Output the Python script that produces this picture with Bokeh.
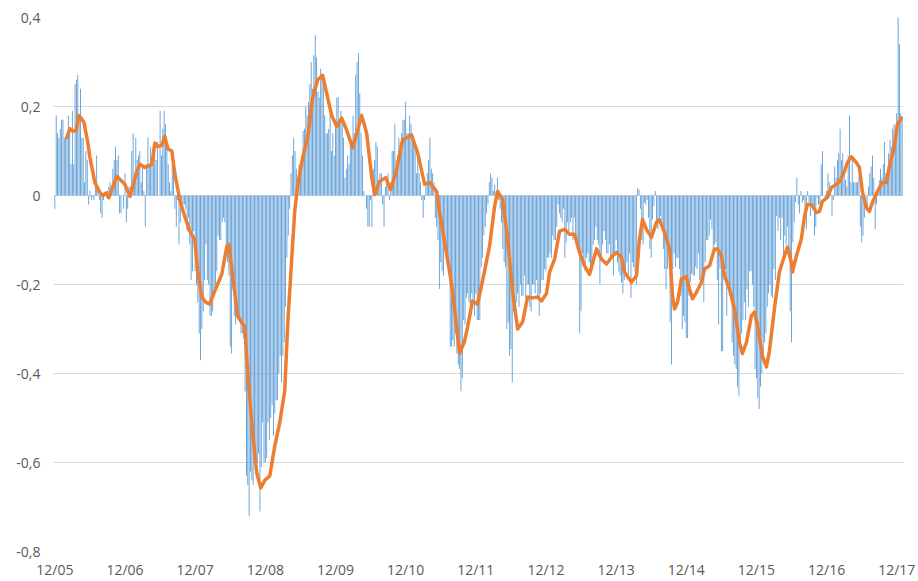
from bokeh.plotting import figure
from bokeh.models import FixedTicker, CustomJSTickFormatter, Range1d, ColumnDataSource
from bokeh.embed import file_html
from bokeh.resources import INLINE

# ---- data (weekly values) ----
tick_weeks = [0, 52, 104, 156, 208, 260, 312, 364, 416, 468, 520, 572, 624]
tick_labels = ["12/05", "12/06", "12/07", "12/08", "12/09", "12/10", "12/11",
               "12/12", "12/13", "12/14", "12/15", "12/16", "12/17"]
y_ticks = [-0.8, -0.6, -0.4, -0.2, 0.0, 0.2, 0.4]

bars_2006 = [-0.03, 0.18, 0.14, 0.13, 0.15, 0.17, 0.17, 0.13, 0.13, 0.13,
             0.18, 0.15, 0.07, 0.19, 0.07, 0.25, 0.26, 0.27, 0.18, 0.24,
             0.13, 0.13, 0.03, 0.10, 0.08, -0.02, 0.01, -0.01, -0.003, -0.01,
             0.02, 0.09, 0.01, -0.01, -0.04, -0.05, -0.01, 0.0, 0.01, 0.01,
             0.02, 0.03, 0.02, 0.06, 0.08, 0.11, 0.08, 0.09, -0.04, -0.04,
             0.0, -0.03, 0.05, -0.06, -0.03, 0.02, 0.02, 0.10, 0.14, 0.05,
             0.13, 0.08, 0.09, 0.10, 0.03, 0.07, 0.01, -0.07, 0.07, 0.13,
             0.07, 0.11, 0.07, 0.07, 0.12, 0.08, 0.12, 0.0, 0.19, 0.09,
             0.15, 0.19, 0.16, 0.11, 0.07, 0.03, 0.01, 0.07, 0.06, -0.03,
             -0.07, -0.01, -0.11, -0.06, -0.02, -0.02, -0.02, -0.03, -0.08, -0.05,
             -0.11, -0.19, -0.17, -0.08, -0.17]
bars_2008 = [-0.20, -0.24, -0.31, -0.37, -0.30,
             -0.26, -0.19, -0.11, -0.19, -0.20, -0.27, -0.27, -0.26, -0.21, -0.21,
             -0.17, -0.09, -0.10, -0.10, -0.06, -0.05, -0.06, -0.12, -0.15, -0.18,
             -0.34, -0.355, -0.21, -0.27, -0.29, -0.25, -0.26, -0.28, -0.31, -0.31,
             -0.32, -0.44, -0.63, -0.65, -0.72, -0.62, -0.64, -0.65, -0.55, -0.62,
             -0.60, -0.58, -0.71, -0.61, -0.51, -0.60, -0.60, -0.59, -0.51, -0.55,
             -0.50, -0.47, -0.54, -0.49, -0.46, -0.46, -0.40, -0.36, -0.42, -0.36,
             -0.33, -0.25, -0.14, -0.09, -0.03, 0.05, 0.09, 0.13, 0.10, 0.06,
             0.04, 0.07, 0.06, 0.09, 0.145, 0.15, 0.20, 0.18, 0.21, 0.25,
             0.30, 0.24, 0.315, 0.36, 0.31, 0.233, 0.22, 0.285, 0.27, 0.25,
             0.18, 0.14, 0.14, 0.15, 0.19, 0.10, 0.14, 0.09, 0.17, 0.22]
bars_2010 = [0.22, 0.16, 0.19, 0.17, 0.13, 0.04, 0.06, 0.09, 0.07, 0.13,
             0.11, 0.18, 0.14, 0.27, 0.30, 0.32, 0.23, 0.14, 0.09, 0.01,
             0.0, -0.03, -0.07, -0.07, -0.01, -0.07, 0.06, 0.08, 0.12, 0.11,
             0.03, 0.05, 0.05, -0.02, -0.07, 0.02, 0.03, 0.05, -0.01, 0.03,
             0.10, 0.10, 0.16, 0.08, 0.09, 0.13, 0.12, 0.14, 0.17, 0.17,
             0.21, 0.14, 0.14, 0.18, 0.16, 0.14, 0.12, 0.11, 0.05, 0.10,
             0.05, 0.03, -0.01, -0.05, -0.01, 0.02, 0.05, 0.08, 0.13, 0.06,
             0.05, 0.03, -0.05, -0.07, -0.10, -0.21, -0.15, -0.17, -0.18, -0.12,
             -0.12, -0.15, -0.16, -0.34, -0.34, -0.325, -0.34, -0.31, -0.355, -0.38,
             -0.39, -0.44, -0.41, -0.28, -0.29, -0.23, -0.22, -0.24, -0.27, -0.22,
             -0.24, -0.27, -0.22, -0.28, -0.28, -0.28, -0.16, -0.14, -0.09, -0.07]
bars_2012 = [-0.04, -0.02, 0.03, 0.05, 0.04, 0.01, 0.025, 0.006, 0.04, -0.01,
             -0.03, -0.06, -0.12, -0.15, -0.16, -0.30, -0.285, -0.36, -0.345, -0.42,
             -0.26, -0.255, -0.24, -0.22, -0.25, -0.20, -0.225, -0.225, -0.18, -0.23,
             -0.20, -0.20, -0.25, -0.26, -0.20, -0.20, -0.22, -0.19, -0.23, -0.27,
             -0.22, -0.19, -0.19, -0.165, -0.17, -0.14, -0.14, -0.13, -0.14, -0.09,
             -0.10, -0.10, -0.07, -0.02, -0.04, -0.05, -0.06, -0.03, -0.14, -0.105,
             -0.06, -0.08, -0.06, -0.05, -0.10, -0.05, -0.09, -0.10, -0.11, -0.31,
             -0.26, -0.13, -0.16, -0.17, -0.14, -0.13, -0.15, -0.16, -0.17, -0.11,
             -0.10, -0.07, -0.10, -0.11, -0.20, -0.14, -0.11, -0.08, -0.10, -0.13,
             -0.13, -0.11, -0.14, -0.14, -0.18, -0.13, -0.10, -0.15, -0.17, -0.18,
             -0.195, -0.22, -0.19, -0.17, -0.15]
bars_2014 = [-0.18, -0.13, -0.23, -0.15, -0.16,
             -0.17, -0.20, 0.017, 0.013, -0.03, -0.10, -0.11, -0.016, -0.02, -0.01,
             -0.05, -0.12, -0.14, -0.054, -0.024, 0.01, -0.07, -0.076, -0.054, -0.046,
             -0.06, -0.12, -0.165, -0.21, -0.165, -0.12, -0.285, -0.38, -0.165, -0.13,
             -0.16, -0.14, -0.14, -0.165, -0.225, -0.30, -0.27, -0.285, -0.32, -0.32,
             -0.225, -0.195, -0.175, -0.18, -0.18, -0.16, -0.165, -0.13, -0.19, -0.19,
             -0.175, -0.24, -0.15, -0.10, -0.10, -0.09, -0.054, -0.075, -0.12, -0.11,
             -0.105, -0.19, -0.29, -0.165, -0.35, -0.35, -0.19, -0.165, -0.27, -0.21,
             -0.225, -0.23, -0.33, -0.36, -0.38, -0.39, -0.43, -0.45, -0.34, -0.31,
             -0.28, -0.24, -0.28, -0.21, -0.25, -0.17, -0.17, -0.20, -0.25, -0.39,
             -0.41, -0.455, -0.48, -0.43, -0.40, -0.36, -0.33, -0.31, -0.25, -0.22,
             -0.20]
bars_2016 = [-0.225, -0.23, -0.165, -0.19, -0.046, -0.08, -0.05, -0.10, -0.05,
             -0.14, -0.09, -0.11, -0.07, -0.12, -0.26, -0.33, -0.105, -0.06, -0.015,
             0.04, -0.02, -0.04, 0.01, -0.015, -0.01, -0.04, -0.076, 0.01, -0.015,
             -0.046, -0.02, -0.03, -0.09, -0.07, -0.005, -0.02, -0.02, 0.07, 0.10,
             0.0, -0.01, 0.01, 0.05, 0.03, 0.02, -0.046, -0.01, 0.065, 0.04,
             0.08, 0.095, 0.15, 0.08, 0.095, 0.05, 0.035, 0.02, 0.09, 0.18,
             0.03, 0.08, 0.03, 0.03, 0.03, 0.03, 0.04, -0.07, -0.105, -0.09,
             -0.05, 0.0, -0.03, 0.02, 0.05, 0.065, 0.09, 0.04, -0.076, -0.02,
             0.01, 0.035, 0.06, 0.04, 0.07, 0.12, 0.05, 0.055, 0.095, 0.125,
             0.11, 0.15, 0.16, 0.13, 0.185, 0.40, 0.34, 0.185, 0.175]

ma_week = [8.9, 11.1, 13.3, 15.6, 17.8, 21.5, 24.4, 25.9, 29.6, 33.3,
           35.6, 37.8, 40.0, 42.2, 45.9, 49.6, 51.9, 55.6, 57.8, 60.7,
           63.0, 66.7, 71.9, 74.1, 76.3, 79.3, 81.5, 83.7, 86.7, 88.9,
           92.6, 96.3, 100.0, 103.7, 105.9, 108.9, 111.9, 114.8, 118.5, 123.7,
           127.4, 128.9, 131.9, 135.6, 140.7, 143.0, 145.9, 149.6, 152.6, 155.6,
           159.3, 163.0, 166.7, 170.4, 172.6, 175.6, 177.8, 180.0, 183.7, 187.4,
           191.1, 194.8, 198.5, 202.2, 205.2, 208.9, 212.6, 216.3, 220.7, 227.4,
           231.1, 234.8, 237.0, 240.7, 245.2, 248.9, 253.3, 257.8, 264.4, 268.9,
           274.1, 277.8, 283.0, 285.2, 288.9, 292.6, 294.8, 300.0, 303.7, 305.9,
           309.6, 313.3, 317.0, 322.2, 325.9, 328.1, 331.9, 335.6, 339.3, 343.0,
           346.7, 350.4, 354.1, 357.8, 360.7, 364.4, 366.7, 370.4, 374.1, 377.8,
           381.5, 385.2, 388.9, 392.6, 396.3, 401.5, 405.2, 408.9, 413.3, 416.3,
           420.0, 422.2, 427.4, 431.1, 433.3, 435.6, 438.5, 442.2, 445.9, 448.1,
           451.9, 455.6, 457.8, 459.3, 461.5, 464.4, 468.1, 470.4, 472.6, 475.6,
           479.3, 481.5, 485.2, 488.9, 491.1, 494.1, 496.3, 500.0, 503.7, 507.4,
           509.6, 512.6, 516.3, 518.5, 520.7, 524.4, 527.4, 529.6, 533.3, 537.0,
           540.7, 543.0, 545.9, 546.7, 549.6, 553.3, 555.6, 557.8, 560.7, 564.4,
           566.7, 568.9, 572.6, 575.6, 579.3, 581.5, 585.2, 587.4, 590.4, 594.1,
           596.3, 598.5, 601.5, 603.7, 605.9, 609.6, 613.3, 616.3, 618.5, 622.2,
           624.4, 627.4]
ma_value = [0.13, 0.15, 0.145, 0.145, 0.18, 0.165, 0.12, 0.087, 0.03, 0.007,
            0.0, 0.005, -0.005, 0.013, 0.043, 0.032, 0.025, -0.002, 0.02, 0.054,
            0.07, 0.063, 0.07, 0.118, 0.11, 0.113, 0.133, 0.105, 0.10, 0.05,
            -0.01, -0.047, -0.08, -0.10, -0.17, -0.228, -0.24, -0.244, -0.215, -0.177,
            -0.116, -0.11, -0.183, -0.272, -0.295, -0.40, -0.51, -0.623, -0.657, -0.64,
            -0.63, -0.563, -0.51, -0.438, -0.288, -0.14, -0.035, 0.024, 0.085, 0.13,
            0.22, 0.26, 0.27, 0.22, 0.18, 0.155, 0.174, 0.147, 0.107, 0.18,
            0.14, 0.043, 0.002, 0.032, 0.04, 0.013, 0.058, 0.125, 0.136, 0.096,
            0.025, 0.029, 0.009, -0.038, -0.105, -0.172, -0.217, -0.355, -0.327, -0.295,
            -0.237, -0.244, -0.192, -0.114, -0.025, 0.009, -0.009, -0.098, -0.217, -0.30,
            -0.284, -0.228, -0.23, -0.228, -0.237, -0.22, -0.172, -0.143, -0.08, -0.076,
            -0.087, -0.087, -0.128, -0.158, -0.177, -0.12, -0.143, -0.154, -0.136, -0.128,
            -0.139, -0.172, -0.195, -0.18, -0.098, -0.054, -0.076, -0.094, -0.06, -0.054,
            -0.083, -0.12, -0.226, -0.255, -0.24, -0.188, -0.183, -0.21, -0.232, -0.217,
            -0.195, -0.165, -0.158, -0.12, -0.12, -0.136, -0.18, -0.21, -0.255, -0.33,
            -0.355, -0.33, -0.27, -0.262, -0.29, -0.36, -0.385, -0.35, -0.255, -0.172,
            -0.136, -0.116, -0.15, -0.172, -0.136, -0.098, -0.047, -0.02, -0.02, -0.038,
            -0.036, -0.013, -0.004, 0.018, 0.025, 0.031, 0.054, 0.074, 0.087, 0.074,
            0.063, 0.009, -0.027, -0.036, -0.016, 0.009, 0.029, 0.029, 0.065, 0.11,
            0.159, 0.174]

values = bars_2006 + bars_2008 + bars_2010 + bars_2012 + bars_2014 + bars_2016
weeks = list(range(len(values)))

bar_src = ColumnDataSource(dict(week=weeks, value=values))
ma_src = ColumnDataSource(dict(week=ma_week, value=ma_value))

# ---- figure ----
p = figure(width=918, height=581, output_backend="svg", toolbar_location=None,
           x_range=Range1d(-1, 629), y_range=Range1d(-0.8, 0.4),
           min_border_left=53, min_border_right=15, min_border_top=17,
           min_border_bottom=28)
p.outline_line_color = None
p.background_fill_color = "white"
p.border_fill_color = "white"

p.vbar(x="week", top="value", bottom=0, width=0.65, source=bar_src,
       fill_color="#5B9BD5", line_color=None)
p.line(x="week", y="value", source=ma_src, line_color="#ED7D31",
       line_width=3.5, line_join="round", line_cap="round")

p.xgrid.grid_line_color = None
p.ygrid.grid_line_color = "#D9D9D9"
p.ygrid.grid_line_width = 1

p.yaxis.ticker = FixedTicker(ticks=y_ticks)
p.yaxis.formatter = CustomJSTickFormatter(
    code="return Math.abs(tick) < 1e-9 ? '0' : tick.toFixed(1).replace('.', ',');")
p.xaxis.ticker = FixedTicker(ticks=tick_weeks)
p.xaxis.formatter = CustomJSTickFormatter(
    args=dict(tick_pos=tick_weeks, tick_text=tick_labels),
    code="const i = tick_pos.indexOf(Math.round(tick)); return i >= 0 ? tick_text[i] : '';")

for ax in (p.xaxis, p.yaxis):
    ax.axis_line_color = None
    ax.major_tick_line_color = None
    ax.minor_tick_line_color = None
    ax.major_tick_out = 0
    ax.major_tick_in = 0
    ax.minor_tick_out = 0
    ax.minor_tick_in = 0
    ax.major_label_text_font = "Open Sans"
    ax.major_label_text_font_size = "14px"
    ax.major_label_text_color = "#595959"
p.yaxis.major_label_standoff = 13
p.xaxis.major_label_standoff = 8

open("out.html", "w").write(file_html(p, INLINE))
